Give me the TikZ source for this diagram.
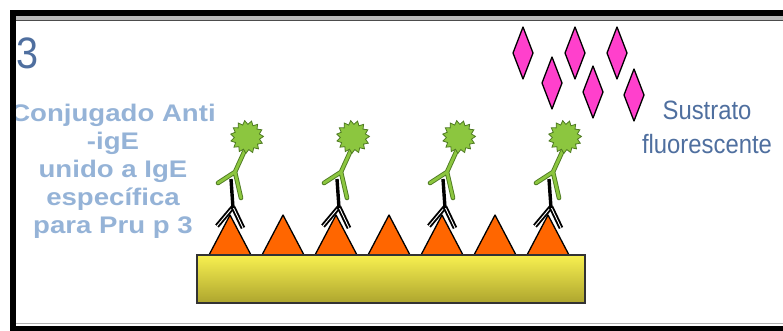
\documentclass[tikz,border=0pt]{standalone}
\usepackage{fontspec}
\setmainfont{Liberation Sans}
\newfontfamily\widefont[FakeStretch=1.15]{Liberation Sans}
\newfontfamily\narrowfont[FakeStretch=0.9]{Liberation Sans}
\usetikzlibrary{shapes}
\definecolor{titleblue}{HTML}{4F6F9F}
\definecolor{paleblue}{HTML}{95B3D7}
\definecolor{antigen}{HTML}{FF6600}
\definecolor{platetop}{HTML}{F8F050}
\definecolor{platebot}{HTML}{ADA52E}
\definecolor{conjgreen}{HTML}{8CC63F}
\definecolor{conjdark}{HTML}{4E7A22}
\definecolor{substrate}{HTML}{FF40CC}
\tikzset{
    mytri/.style = {fill=antigen, draw=black, line width=1.3pt, line join=round},
    myplate/.style = {top color=platetop, bottom color=platebot, draw=black!80, line width=1.5pt},
    mydiam/.style = {fill=substrate, draw=black, line width=1.3pt, line join=round},
    myblob/.style = {star, star points=15, star point ratio=1.3, minimum size=33pt, inner sep=0pt, rotate=8, fill=conjgreen, draw=conjdark, line width=0.8pt},
    edgestem/.style = {-, line width=3.4pt, black},
    edgearm/.style = {-, line width=1.9pt, draw=black, double=white, double distance=0.9pt},
    edgego/.style = {-, line width=4.6pt, conjdark, line cap=round},
    edgegi/.style = {-, line width=2.8pt, conjgreen, line cap=round}
}
\begin{document}
\begin{tikzpicture}[x=1pt, y=-1pt]
  \useasboundingbox (0,0) rectangle (783,331);
  % labels, clipped to the frame
  \begin{scope}
    \clip (16,21) rectangle (783,324);
    \node[text=titleblue, font=\narrowfont\fontsize{44}{44}\selectfont] (num) at (28,53) {3};
    \node[text=paleblue, align=center, font=\widefont\bfseries\fontsize{24}{28}\selectfont] (conj) at (113,171) {Conjugado Anti\\-igE\\unido a IgE\\específica\\para Pru p 3};
    \node[text=titleblue, align=center, font=\narrowfont\fontsize{26.5}{34}\selectfont] (sust) at (707,127) {Sustrato\\fluorescente};
  \end{scope}
  % antigen on the plate
  \foreach \i in {0,...,6}
    \draw[mytri] ({209+53*\i},255) -- ({230+53*\i},215) -- ({251+53*\i},255) -- cycle;
  \draw[myplate] (197,255) rectangle (585,303);
  % IgE with the anti-IgE conjugate on top
  \foreach \i in {0,...,3}{
    \begin{scope}[xshift=\i*106pt]
      \draw[edgearm] (233,207) -- (217,226);
      \draw[edgearm] (233,207) -- (243,228);
      \draw[edgestem] (231,179) -- (233,208);
      \coordinate (fork\i) at (235,172);
      \coordinate (top\i) at (245,150);
      \draw[edgego] (top\i) -- (fork\i) -- (218,183) (fork\i) -- (241,198);
      \draw[edgegi] (top\i) -- (fork\i) -- (218,183) (fork\i) -- (241,198);
      \node[myblob] (blob\i) at (247,137) {};
    \end{scope}
  }
  % substrate
  \foreach \x/\y in {523/53, 552/83, 575/53, 593/92, 617/53, 634/95}
    \draw[mydiam] (\x,{\y-26}) -- ({\x+10},\y) -- (\x,{\y+26}) -- ({\x-10},\y) -- cycle;
  % frame
  \fill[black] (10,10) rectangle (783,16);
  \fill[gray!55] (16,16) rectangle (783,20);
  \draw[black!70, line width=1pt] (16,20.5) -- (783,20.5);
  \fill[black] (10,10) rectangle (16,331);
  \draw[gray!60, line width=1.5pt] (16,323.5) -- (783,323.5);
  \fill[black] (10,326) rectangle (783,331);
\end{tikzpicture}
\end{document}
